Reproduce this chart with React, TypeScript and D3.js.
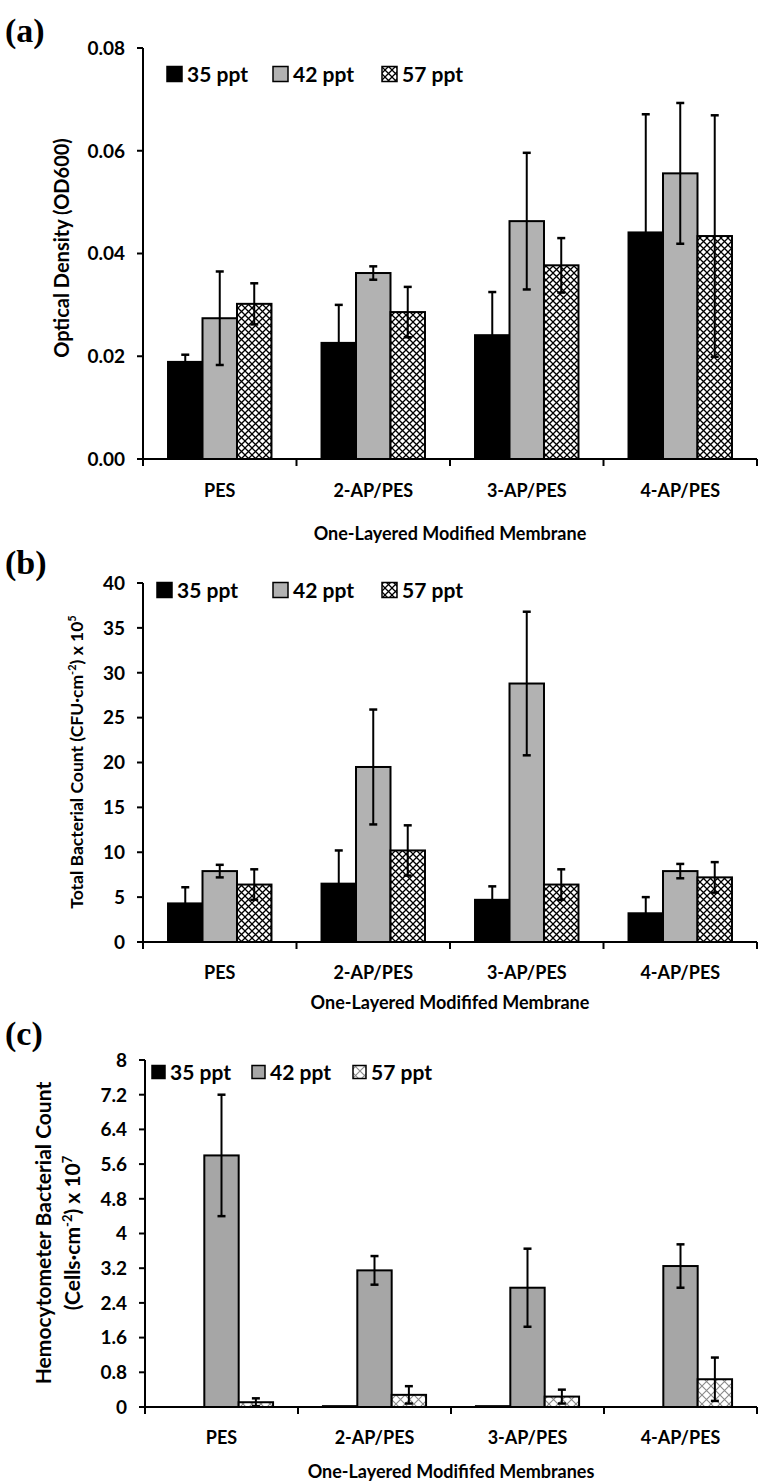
import React from "react";
import * as d3 from "d3";

const categories = ["PES", "2-AP/PES", "3-AP/PES", "4-AP/PES"];
const seriesNames = ["35 ppt", "42 ppt", "57 ppt"];

// Panel (a) Optical density
const a35 = [0.0189, 0.0226, 0.0241, 0.0441];
const a35err = [0.0014, 0.0074, 0.0084, 0.023];
const a42 = [0.0274, 0.0362, 0.0463, 0.0556];
const a42err = [0.0091, 0.0013, 0.0133, 0.0137];
const a57 = [0.0302, 0.0286, 0.0377, 0.0434];
const a57err = [0.004, 0.0049, 0.0053, 0.0235];
const aTicks = [0, 0.02, 0.04, 0.06, 0.08];
const aTickLabels = ["0.00", "0.02", "0.04", "0.06", "0.08"];

// Panel (b) Total bacterial count
const b35 = [4.3, 6.5, 4.7, 3.2];
const b35err = [1.8, 3.7, 1.5, 1.8];
const b42 = [7.9, 19.5, 28.8, 7.9];
const b42err = [0.7, 6.4, 8.0, 0.8];
const b57 = [6.4, 10.2, 6.4, 7.2];
const b57err = [1.7, 2.8, 1.7, 1.7];
const bTicks = [0, 5, 10, 15, 20, 25, 30, 35, 40];
const bTickLabels = ["0", "5", "10", "15", "20", "25", "30", "35", "40"];

// Panel (c) Hemocytometer count
const c35 = [0, 0.02, 0.02, 0];
const c35err = [0, 0, 0, 0];
const c42 = [5.8, 3.15, 2.75, 3.25];
const c42err = [1.4, 0.33, 0.9, 0.5];
const c57 = [0.11, 0.28, 0.24, 0.64];
const c57err = [0.09, 0.2, 0.16, 0.5];
const cTicks = [0, 0.8, 1.6, 2.4, 3.2, 4, 4.8, 5.6, 6.4, 7.2, 8];
const cTickLabels = ["0", "0.8", "1.6", "2.4", "3.2", "4", "4.8", "5.6", "6.4", "7.2", "8"];

const FONT = "Lato, 'Open Sans', sans-serif";
const SERIF = "'Liberation Serif', 'DejaVu Serif', serif";

type PanelProps = {
  label: string;
  labelY: number;
  x0: number;
  x1: number;
  yTop: number;
  yBot: number;
  max: number;
  ticks: number[];
  tickLabels: string[];
  values: number[][];
  errs: number[][];
  gray: string;
  hatchId: string;
  yTitle: React.ReactNode;
  xLabelY: number;
  xTitle: string;
  xTitleY: number;
  legendY: number;
  legendX: number[];
  legendSize: number;
  legendFont: number;
};

function Panel(p: PanelProps) {
  const y = d3.scaleLinear().domain([0, p.max]).range([p.yBot, p.yTop]);
  const x = d3.scaleBand<string>().domain(categories).range([p.x0, p.x1]).paddingInner(0).paddingOuter(0);
  const bw = x.bandwidth();
  const inner = d3.scaleBand<string>().domain(seriesNames).range([bw * 0.163, bw * 0.837]).padding(0);
  const fills = ["#000000", p.gray, `url(#${p.hatchId})`];
  const boundaries = d3.range(categories.length + 1).map((i) => p.x0 + i * bw);
  return (
    <g>
      <text x={5} y={p.labelY} fontFamily={SERIF} fontWeight={700} fontSize={34}>{p.label}</text>
      {seriesNames.map((s, si) =>
        categories.map((c, ci) => {
          const v = p.values[si][ci];
          if (v <= 0) return null;
          const bx = (x(c) as number) + (inner(s) as number);
          return (
            <rect key={`${s}-${c}`} x={bx} y={y(v)} width={inner.bandwidth()} height={p.yBot - y(v)}
              fill={fills[si]} stroke="#000" strokeWidth={2} />
          );
        })
      )}
      {seriesNames.map((s, si) =>
        categories.map((c, ci) => {
          const v = p.values[si][ci];
          const e = p.errs[si][ci];
          if (e <= 0) return null;
          const cx = (x(c) as number) + (inner(s) as number) + inner.bandwidth() / 2;
          const yh = y(v + e);
          const yl = y(Math.max(0, v - e));
          return (
            <g key={`e-${s}-${c}`} stroke="#000">
              <line x1={cx} x2={cx} y1={yh} y2={yl} strokeWidth={2} />
              <line x1={cx - 4} x2={cx + 4} y1={yh} y2={yh} strokeWidth={2.5} />
              <line x1={cx - 4} x2={cx + 4} y1={yl} y2={yl} strokeWidth={2.5} />
            </g>
          );
        })
      )}
      <line x1={p.x0} x2={p.x0} y1={p.yTop} y2={p.yBot} stroke="#000" strokeWidth={2} />
      {p.ticks.map((t, i) => (
        <g key={`yt-${i}`}>
          <line x1={p.x0 - 6} x2={p.x0} y1={y(t)} y2={y(t)} stroke="#000" strokeWidth={2} />
          <text x={p.x0 - 18} y={y(t)} dy="0.36em" textAnchor="end" fontFamily={FONT} fontWeight={700} fontSize={19}>
            {p.tickLabels[i]}
          </text>
        </g>
      ))}
      <line x1={p.x0 - 6} x2={p.x1} y1={p.yBot} y2={p.yBot} stroke="#000" strokeWidth={2} />
      {boundaries.map((bx, i) => (
        <line key={`xt-${i}`} x1={bx} x2={bx} y1={p.yBot} y2={p.yBot + 7} stroke="#000" strokeWidth={2} />
      ))}
      {categories.map((c) => (
        <text key={`xl-${c}`} x={(x(c) as number) + bw / 2} y={p.xLabelY} textAnchor="middle"
          fontFamily={FONT} fontWeight={700} fontSize={18}>{c}</text>
      ))}
      <text x={(p.x0 + p.x1) / 2} y={p.xTitleY} textAnchor="middle" fontFamily={FONT} fontWeight={700} fontSize={18}>
        {p.xTitle}
      </text>
      {p.yTitle}
      {seriesNames.map((s, si) => (
        <g key={`lg-${s}`}>
          <rect x={p.legendX[si]} y={p.legendY - p.legendSize / 2} width={p.legendSize} height={p.legendSize}
            fill={fills[si]} stroke="#000" strokeWidth={1.5} />
          <text x={p.legendX[si] + p.legendSize + 5} y={p.legendY} dy="0.36em" fontFamily={FONT}
            fontWeight={700} fontSize={p.legendFont}>{s}</text>
        </g>
      ))}
    </g>
  );
}

export default function App() {
  return (
    <svg width={764} height={1482} style={{ position: "absolute", left: 0, top: 0, background: "#fff" }}>
      <defs>
        <pattern id="hatchDark" patternUnits="userSpaceOnUse" width={7} height={7}>
          <rect width={7} height={7} fill="#fff" />
          <path d="M-1,-1 L8,8 M8,-1 L-1,8" stroke="#000" strokeWidth={1.3} />
        </pattern>
        <pattern id="hatchLight" patternUnits="userSpaceOnUse" width={9} height={9}>
          <rect width={9} height={9} fill="#fff" />
          <path d="M-1,-1 L10,10 M10,-1 L-1,10" stroke="#8a8a8a" strokeWidth={1.1} />
        </pattern>
      </defs>
      <Panel
        label="(a)" labelY={42}
        x0={143} x1={757} yTop={48} yBot={459} max={0.08}
        ticks={aTicks} tickLabels={aTickLabels}
        values={[a35, a42, a57]} errs={[a35err, a42err, a57err]}
        gray="#b2b2b2" hatchId="hatchDark"
        yTitle={
          <text transform="translate(62,248) rotate(-90)" textAnchor="middle" dy="0.36em"
            fontFamily={FONT} fontWeight={700} fontSize={20}>Optical Density (OD600)</text>
        }
        xLabelY={497} xTitle="One-Layered Modified Membrane" xTitleY={540}
        legendY={74} legendX={[167, 273, 382]} legendSize={15} legendFont={21}
      />
      <Panel
        label="(b)" labelY={574}
        x0={143} x1={757} yTop={583} yBot={942} max={40}
        ticks={bTicks} tickLabels={bTickLabels}
        values={[b35, b42, b57]} errs={[b35err, b42err, b57err]}
        gray="#b2b2b2" hatchId="hatchDark"
        yTitle={
          <text transform="translate(77,762) rotate(-90)" textAnchor="middle" dy="0.36em"
            fontFamily={FONT} fontWeight={700} fontSize={17.5}>
            <tspan>Total Bacterial Count (CFU·cm</tspan>
            <tspan dy={-7} fontSize={11}>-2</tspan>
            <tspan dy={7}>) x 10</tspan>
            <tspan dy={-7} fontSize={11}>5</tspan>
          </text>
        }
        xLabelY={979} xTitle="One-Layered Modififed Membrane" xTitleY={1009}
        legendY={590} legendX={[157, 273, 382]} legendSize={15} legendFont={21}
      />
      <Panel
        label="(c)" labelY={1045}
        x0={145} x1={757} yTop={1060} yBot={1407} max={8}
        ticks={cTicks} tickLabels={cTickLabels}
        values={[c35, c42, c57]} errs={[c35err, c42err, c57err]}
        gray="#a6a6a6" hatchId="hatchLight"
        yTitle={
          <g fontFamily={FONT} fontWeight={700} fontSize={21}>
            <text transform="translate(43,1233) rotate(-90)" textAnchor="middle" dy="0.36em">
              Hemocytometer Bacterial Count
            </text>
            <text transform="translate(72,1233) rotate(-90)" textAnchor="middle" dy="0.36em">
              <tspan>(Cells·cm</tspan>
              <tspan dy={-8} fontSize={13}>-2</tspan>
              <tspan dy={8}>) x 10</tspan>
              <tspan dy={-8} fontSize={13}>7</tspan>
            </text>
          </g>
        }
        xLabelY={1444} xTitle="One-Layered Modififed Membranes" xTitleY={1478}
        legendY={1072} legendX={[152, 252, 353]} legendSize={13} legendFont={21}
      />
    </svg>
  );
}
